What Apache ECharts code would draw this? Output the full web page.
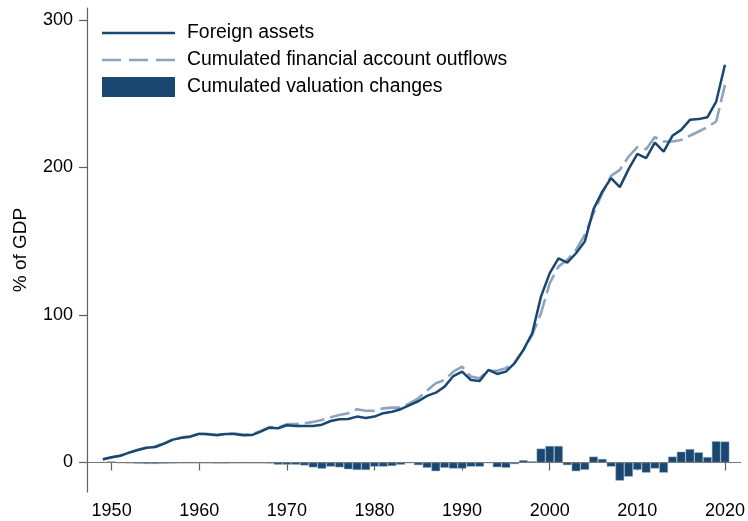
<!DOCTYPE html>
<html>
<head>
<meta charset="utf-8">
<script src="https://cdn.jsdelivr.net/npm/echarts@6/dist/echarts.min.js"></script>
<style>
html,body{margin:0;padding:0;background:#fff;}
#chart{width:748px;height:521px;}
</style>
</head>
<body>
<div id="chart"></div>
<script>
var years = [];
for (var y = 1949; y <= 2020; y++) years.push(y);

var foreignAssets = [
  2.2, 3.5, 4.6, 6.7, 8.5, 10.0, 10.5, 12.8, 15.5, 16.8,
  17.5, 19.5, 19.1, 18.4, 19.3, 19.3, 18.4, 18.6, 20.9, 23.6,
  23.2, 25.2, 24.7, 24.7, 24.7, 25.6, 28.1, 29.3, 29.5, 31.1,
  30.2, 31.1, 33.4, 34.4, 36.1, 38.8, 41.5, 45.1, 47.3, 51.4,
  58.6, 61.6, 55.9, 55.3, 62.7, 60.0, 61.6, 67.3, 76.3, 87.6,
  112.4, 128.3, 138.4, 135.5, 141.8, 149.7, 171.7, 183.6, 192.7, 186.6,
  198.8, 209.2, 206.2, 216.8, 210.7, 221.4, 225.4, 232.2, 232.7, 234.0,
  244.6, 269.5
];

var cumulatedOutflows = [
  2.0, 3.5, 4.8, 6.8, 8.7, 10.2, 11.0, 13.0, 15.6, 17.0,
  17.8, 19.6, 19.3, 18.8, 19.5, 19.6, 18.9, 19.0, 21.3, 24.0,
  23.8, 26.0, 26.0, 26.6, 27.5, 28.8, 30.6, 32.2, 33.4, 36.1,
  35.1, 35.1, 36.7, 37.2, 37.2, 40.1, 43.5, 48.7, 53.7, 55.9,
  61.6, 65.0, 58.2, 57.1, 62.2, 62.2, 63.9, 67.9, 76.3, 86.4,
  101.2, 121.5, 132.8, 137.3, 144.0, 154.2, 169.0, 182.5, 194.2, 198.3,
  207.3, 213.7, 212.3, 220.5, 217.5, 217.5, 218.6, 221.4, 224.3, 227.3,
  231.1, 255.9
];

var valuationChanges = [
  0.2, 0.7, -0.5, -0.6, -0.8, -1.0, -1.0, -0.8, -0.7, -0.6,
  -0.6, -0.6, -0.6, -0.7, -0.7, -0.6, -0.6, -0.6, -0.6, -0.7,
  -1.5, -1.5, -1.5, -2.0, -3.3, -4.2, -2.8, -3.3, -4.6, -5.1,
  -5.1, -2.8, -2.8, -2.4, -1.5, -0.5, -1.8, -3.6, -5.9, -3.6,
  -4.1, -4.1, -2.8, -2.8, -0.5, -3.2, -3.6, -1.1, 1.6, 0.8,
  9.4, 11.2, 11.2, -1.8, -5.9, -5.0, 4.0, 2.4, -2.8, -12.3,
  -9.6, -5.0, -6.9, -4.1, -6.9, 4.0, 7.3, 9.1, 6.9, 3.7,
  14.4, 14.2
];

var yTicks = [0, 100, 200, 300];
var xTicks = [1950, 1960, 1970, 1980, 1990, 2000, 2010, 2020];

function pairs(vals) {
  return years.map(function (yr, i) { return [yr, vals[i]]; });
}

var navy = '#1a476f';
var lightBlue = '#8ea3bd';
var axisGray = '#5f5f5f';
var font = 'Liberation Sans, Arial, sans-serif';

// legend key shapes (corner specks keep the key box at full size)
var corners = 'M0,0 L0.01,0 L0,0.01 Z M73,20 L72.99,20 L73,19.99 Z ';
var solidKey = 'path://' + corners + 'M0,8.7 L73,8.7 L73,11.3 L0,11.3 Z';
var dashKey = 'path://' + corners +
  'M0,8.7 L19,8.7 L19,11.3 L0,11.3 Z M27,8.7 L46,8.7 L46,11.3 L27,11.3 Z M54,8.7 L73,8.7 L73,11.3 L54,11.3 Z';

var chart = echarts.init(document.getElementById('chart'), null, {renderer: 'canvas'});
chart.setOption({
  animation: false,
  backgroundColor: '#fff',
  grid: {left: 87, right: 6, top: 8, bottom: 29, containLabel: false},
  legend: {
    orient: 'vertical',
    left: 102,
    top: 23,
    padding: 0,
    itemWidth: 73,
    itemHeight: 20,
    itemGap: 7,
    textStyle: {fontFamily: font, fontSize: 19.4, color: '#000', padding: [0, 0, 0, 7]},
    data: [
      {name: 'Foreign assets', icon: solidKey, itemStyle: {color: navy, borderWidth: 0}},
      {name: 'Cumulated financial account outflows', icon: dashKey, itemStyle: {color: lightBlue, borderWidth: 0}},
      {name: 'Cumulated valuation changes', icon: 'rect', itemStyle: {color: navy, borderWidth: 0}}
    ]
  },
  xAxis: {
    type: 'value',
    min: 1947.19,
    max: 2021.79,
    splitLine: {show: false},
    axisLine: {show: true, lineStyle: {color: axisGray, width: 1.2}},
    axisTick: {show: true, inside: false, length: 8, customValues: xTicks, lineStyle: {color: axisGray, width: 1.2}},
    axisLabel: {customValues: xTicks, fontFamily: font, fontSize: 18, color: '#000', margin: 10,
      formatter: function (v) { return String(v); }}
  },
  yAxis: {
    type: 'value',
    min: -20,
    max: 308,
    name: '% of GDP',
    nameLocation: 'middle',
    nameGap: 57,
    nameRotate: 90,
    nameTextStyle: {fontFamily: font, fontSize: 19, color: '#000'},
    splitLine: {show: false},
    axisLine: {show: true, lineStyle: {color: axisGray, width: 1.2}},
    axisTick: {show: true, inside: false, length: 8, customValues: yTicks, lineStyle: {color: axisGray, width: 1.2}},
    axisLabel: {customValues: yTicks, fontFamily: font, fontSize: 18, color: '#000', margin: 14}
  },
  series: [
    {
      name: 'Cumulated valuation changes',
      type: 'bar',
      data: pairs(valuationChanges),
      barWidth: 8.7,
      itemStyle: {color: navy, borderColor: '#9fb4cc', borderWidth: 0.5},
      z: 1,
      markLine: {
        silent: true,
        symbol: 'none',
        label: {show: false},
        lineStyle: {color: '#777', width: 1, type: 'solid'},
        data: [{yAxis: 0}]
      }
    },
    {
      name: 'Cumulated financial account outflows',
      type: 'line',
      data: pairs(cumulatedOutflows),
      showSymbol: false,
      symbol: 'none',
      lineStyle: {color: lightBlue, width: 2.6, type: [20, 6]},
      itemStyle: {color: lightBlue},
      z: 2
    },
    {
      name: 'Foreign assets',
      type: 'line',
      data: pairs(foreignAssets),
      showSymbol: false,
      symbol: 'none',
      lineStyle: {color: navy, width: 2.5},
      itemStyle: {color: navy},
      z: 3
    }
  ]
});
</script>
</body>
</html>
